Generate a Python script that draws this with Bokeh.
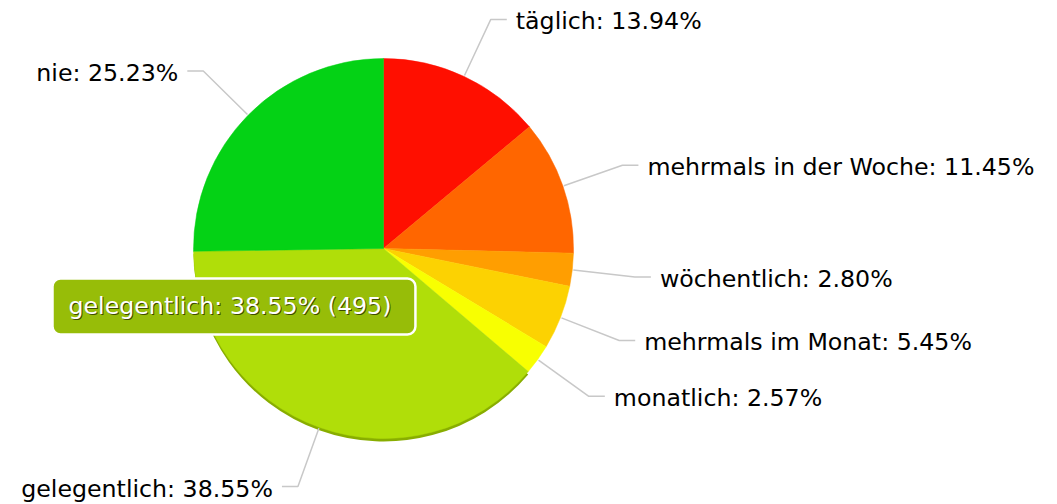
import math
from bokeh.plotting import figure
from bokeh.models import Range1d, Label, ColumnDataSource
from bokeh.embed import file_html
from bokeh.resources import INLINE
from bokeh.core.properties import value

# ---- data ----
categories = ["täglich", "mehrmals in der Woche", "wöchentlich",
              "mehrmals im Monat", "monatlich", "gelegentlich", "nie"]
counts = [179, 147, 36, 70, 33, 495, 324]
colors = ["#FF0F00", "#FF6600", "#FF9E01", "#FCD202", "#F8FF01", "#B0DE09", "#04D215"]
hover_category = "gelegentlich"

# ---- layout / style ----
W, H = 1057, 504
CX, CY = 383, 248          # pie centre inside the plot (pixels from left/top)
R = 190                    # pie radius
R_ELBOW = 253              # leader-line elbow radius
H_SEG = 16                 # horizontal leader segment
TXT_GAP = 9
FONT = "DejaVu Sans"
FSIZE = "23.7px"

total = sum(counts)
fracs = [c / total for c in counts]
cum_start, cum_end, acc = [], [], 0.0
for f in fracs:
    cum_start.append(acc)
    acc += f
    cum_end.append(acc)

start_angle = [math.pi / 2 - 2 * math.pi * e for e in cum_end]
end_angle = [math.pi / 2 - 2 * math.pi * s for s in cum_start]
pcts = ["%.2f%%" % (f * 100) for f in fracs]

p = figure(width=W, height=H,
           x_range=Range1d(-CX, W - CX), y_range=Range1d(-(H - CY), CY),
           x_axis_type=None, y_axis_type=None,
           output_backend="svg", toolbar_location=None, min_border=0,
           tools="")
p.grid.visible = False
p.outline_line_color = None
p.background_fill_color = "white"
p.border_fill_color = "white"

# hover shadow under highlighted slice
hi = categories.index(hover_category)
p.wedge(x=[0], y=[-3], radius=R, start_angle=[start_angle[hi]], end_angle=[end_angle[hi]],
        fill_color="#88AD00", line_color=None)

src = ColumnDataSource(dict(cat=categories, start=start_angle, end=end_angle, color=colors))
p.wedge(x=0, y=0, radius=R, start_angle="start", end_angle="end",
        fill_color="color", line_color="color", line_width=0.5, source=src)

# leader lines and labels
xs, ys, tx, ty, tt, ta = [], [], [], [], [], []
for cat, s, e, pc in zip(categories, cum_start, cum_end, pcts):
    mid = (s + e) / 2 * 2 * math.pi      # clockwise from top
    ex, ey = (R + 1) * math.sin(mid), (R + 1) * math.cos(mid)
    bx, by = R_ELBOW * math.sin(mid), R_ELBOW * math.cos(mid)
    side = 1 if bx >= 0 else -1
    hx = bx + side * H_SEG
    xs.append([ex, bx, hx])
    ys.append([ey, by, by])
    tx.append(hx + side * TXT_GAP)
    ty.append(by - 2)
    tt.append("%s: %s" % (cat, pc))
    ta.append("left" if side > 0 else "right")

p.multi_line(xs=xs, ys=ys, line_color="#C8C8C8", line_width=1.5)
lsrc = ColumnDataSource(dict(x=tx, y=ty, text=tt, align=ta))
p.text(x="x", y="y", text="text", text_align="align", text_baseline="alphabetic",
       text_font=value(FONT), text_font_size=FSIZE, text_color="#000000", source=lsrc)

# tooltip for highlighted slice
tip_text = "%s: %s (%d)" % (hover_category, pcts[hi], counts[hi])
tip_x, tip_y = -315, -57
PAD_L = 17
shadow = Label(x=tip_x + 1 - PAD_L, y=tip_y - 1, text=tip_text, text_font=FONT, text_font_size=FSIZE,
               text_color="#3E4C00", text_baseline="middle", text_align="left",
               background_fill_color="#97BD08", background_fill_alpha=1.0,
               border_line_color="white", border_line_width=2.5, border_radius=8,
               padding=dict(left=PAD_L, right=23, top=14, bottom=14))
front = Label(x=tip_x, y=tip_y, text=tip_text, text_font=FONT, text_font_size=FSIZE,
              text_color="white", text_baseline="middle", text_align="left")
p.add_layout(shadow)
p.add_layout(front)

open("out.html", "w").write(file_html(p, INLINE))
